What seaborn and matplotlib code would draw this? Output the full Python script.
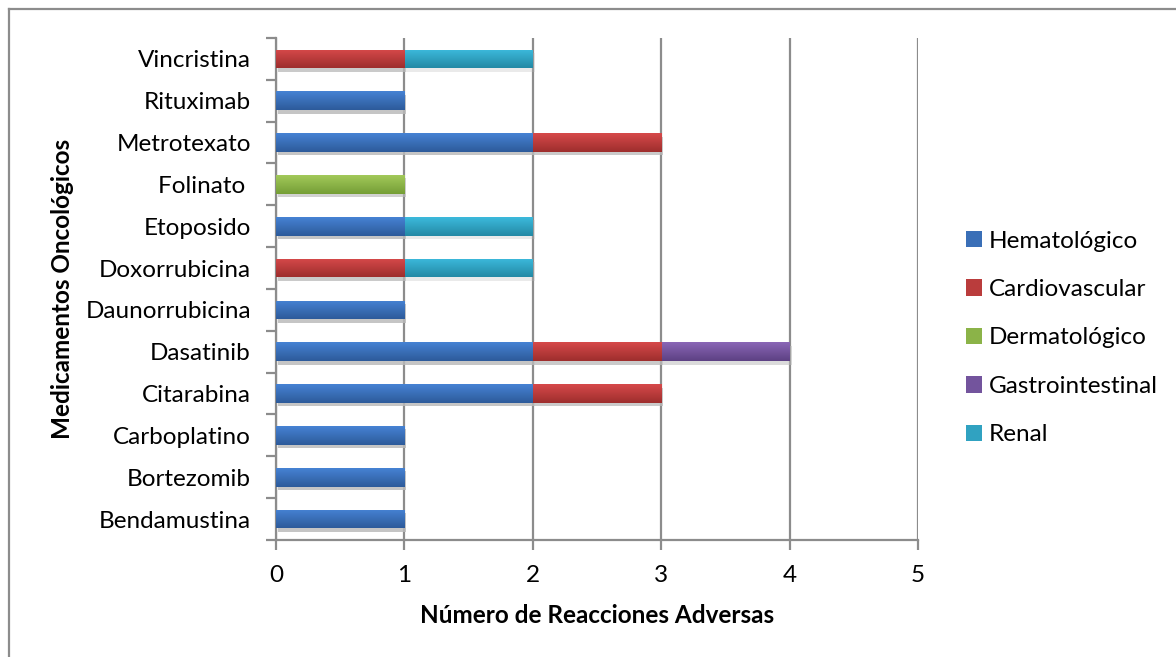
import numpy as np
import pandas as pd
import matplotlib
matplotlib.use("Agg")
import matplotlib.pyplot as plt
import matplotlib.patheffects as pe
from matplotlib.colors import LinearSegmentedColormap, to_rgb
from matplotlib.patches import Patch
from matplotlib.lines import Line2D
import seaborn as sns

# Drugs, listed from the top of the chart downwards
drugs = ["Vincristina", "Rituximab", "Metrotexato", "Folinato ", "Etoposido",
         "Doxorrubicina", "Daunorrubicina", "Dasatinib", "Citarabina",
         "Carboplatino", "Bortezomib", "Bendamustina"]

# Adverse reactions per drug and category
hematologico = [0, 1, 2, 0, 1, 0, 1, 2, 2, 1, 1, 1]
cardiovascular = [1, 0, 1, 0, 0, 1, 0, 1, 1, 0, 0, 0]
dermatologico = [0, 0, 0, 1, 0, 0, 0, 0, 0, 0, 0, 0]
gastrointestinal = [0, 0, 0, 0, 0, 0, 0, 1, 0, 0, 0, 0]
renal = [1, 0, 0, 0, 1, 1, 0, 0, 0, 0, 0, 0]

series_names = ["Hematológico", "Cardiovascular", "Dermatológico",
                "Gastrointestinal", "Renal"]
series_values = [hematologico, cardiovascular, dermatologico,
                 gastrointestinal, renal]

# (top, bottom) gradient shades of each category
shades = [("#4682d4", "#2d5b9a"),
          ("#d6494a", "#9e2e2d"),
          ("#a2c95a", "#759e36"),
          ("#8a66b6", "#5d4183"),
          ("#3cbadc", "#2489a5")]

FONT = "Lato"
FS = 17.5
plt.rcParams["font.family"] = [FONT, "DejaVu Sans"]

fig = plt.figure(figsize=(11.76, 6.57), dpi=100)
ax = fig.add_axes([276 / 1176, 1 - 540 / 657, (918 - 276) / 1176, (540 - 38) / 657])

df = pd.DataFrame({"drug": drugs})
cum = np.zeros(len(drugs))
cums = []
for vals in series_values:
    cum = cum + np.array(vals, dtype=float)
    cums.append(cum.copy())

bar_w = 0.45
# Stack by drawing cumulative totals from the last category back to the first
containers = {}
for k in range(len(series_names) - 1, -1, -1):
    df["total"] = cums[k]
    n_before = len(ax.patches)
    sns.barplot(data=df, x="total", y="drug", orient="h", order=drugs,
                color=shades[k][1], width=bar_w, ax=ax, zorder=2 + (4 - k) * 0.01,
                errorbar=None, linewidth=0)
    containers[k] = ax.patches[n_before:]

# Vertical gradient fill for each stacked segment
for k in range(len(series_names) - 1, -1, -1):
    cmap = LinearSegmentedColormap.from_list(f"g{k}", [shades[k][0], shades[k][1]])
    grad = np.linspace(0, 1, 64).reshape(-1, 1)
    for p in containers[k]:
        w = p.get_width()
        if w <= 0:
            p.set_visible(False)
            continue
        p.set_path_effects([pe.SimplePatchShadow(offset=(1.5, -2.5), shadow_rgbFace="#bbbbbb", alpha=0.3),
                            pe.Normal()])
        x0, y0 = p.get_x(), p.get_y()
        h = p.get_height()
        im = ax.imshow(grad, cmap=cmap, aspect="auto",
                       extent=[x0, x0 + w, y0 + h, y0], zorder=3 + (4 - k) * 0.01,
                       interpolation="bilinear")
        im.set_clip_path(p)

ax.set_xlim(0, 5)
ax.set_ylim(len(drugs) - 0.5, -0.5)
ax.set_aspect("auto")

grid_c = "#8c8c8c"
ax.set_xticks(range(0, 6))
ax.xaxis.grid(True, color=grid_c, linewidth=1.6, zorder=1)
ax.set_axisbelow(True)
ax.yaxis.grid(False)

for s in ["top", "right"]:
    ax.spines[s].set_visible(False)
for s in ["left", "bottom"]:
    ax.spines[s].set_color(grid_c)
    ax.spines[s].set_linewidth(1.6)

ax.tick_params(axis="x", direction="out", length=7, width=1.6, color=grid_c,
               labelsize=FS, pad=11, labelcolor="black")
ax.set_yticks(range(len(drugs)))
ax.set_yticklabels(drugs)
ax.tick_params(axis="y", which="major", length=0, labelsize=FS, pad=18, labelcolor="black")
ax.set_yticks(np.arange(-0.5, len(drugs), 1.0), minor=True)
ax.tick_params(axis="y", which="minor", direction="out", length=7, width=1.6, color=grid_c)

ax.set_xlabel("Número de Reacciones Adversas", fontsize=FS, fontweight="bold", labelpad=13)
ax.set_ylabel("Medicamentos Oncológicos", fontsize=FS, fontweight="bold", labelpad=8)


def mid(c1, c2):
    a, b = np.array(to_rgb(c1)), np.array(to_rgb(c2))
    return tuple((a + b) / 2)


handles = [Patch(facecolor=mid(*c), edgecolor="none") for c in shades]
fig.legend(handles, series_names, loc="center left", bbox_to_anchor=(956 / 1176, 1 - 338 / 657),
           frameon=False, fontsize=FS, handlelength=0.65, handleheight=0.65,
           handletextpad=0.3, labelspacing=1.13, borderaxespad=0)

# Chart frame
fig.add_artist(Line2D([9 / 1176, 1.0], [1 - 9 / 657, 1 - 9 / 657], transform=fig.transFigure,
                      color=grid_c, linewidth=1.6))
fig.add_artist(Line2D([9 / 1176, 9 / 1176], [0.0, 1 - 9 / 657], transform=fig.transFigure,
                      color=grid_c, linewidth=1.6))

fig.savefig("out.png", dpi=100, facecolor="white")
